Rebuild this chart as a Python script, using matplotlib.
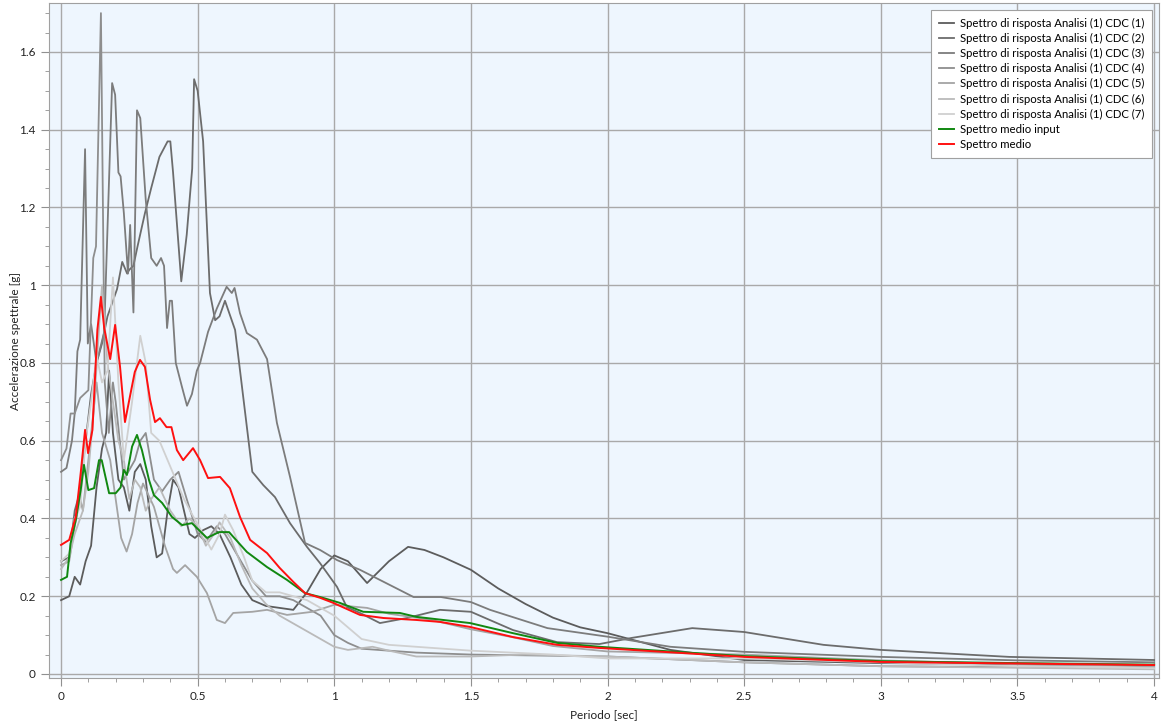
import numpy as np
import matplotlib
matplotlib.use("Agg")
import matplotlib.pyplot as plt
from matplotlib.ticker import MultipleLocator, FormatStrFormatter

# spettri di risposta (periodo [s], accelerazione [g])
t1 = [0, 0.03, 0.05, 0.07, 0.09, 0.11, 0.13, 0.15, 0.165, 0.176, 0.19, 0.21, 0.23, 0.25, 0.27, 0.29, 0.31, 0.33,
      0.35, 0.37, 0.39, 0.41, 0.43, 0.45, 0.47, 0.49, 0.52, 0.55, 0.58, 0.62, 0.66, 0.7, 0.75, 0.8, 0.85, 0.9,
      0.95, 1.0, 1.05, 1.12, 1.2, 1.27, 1.33, 1.4, 1.5, 1.6, 1.7, 1.8, 1.9, 2.0, 2.23, 2.5, 3.0, 3.5, 4.0]
y1 = [0.19, 0.2, 0.25, 0.23, 0.29, 0.33, 0.48, 0.58, 0.62, 0.78, 0.62, 0.5, 0.48, 0.42, 0.52, 0.54, 0.5, 0.38,
      0.3, 0.31, 0.42, 0.5, 0.48, 0.42, 0.36, 0.35, 0.37, 0.38, 0.36, 0.3, 0.23, 0.19, 0.175, 0.17, 0.165, 0.21,
      0.27, 0.305, 0.29, 0.234, 0.29, 0.327, 0.319, 0.3, 0.268, 0.22, 0.18, 0.145, 0.12, 0.105, 0.062, 0.036,
      0.028, 0.025, 0.022]

t2 = [0, 0.03, 0.05, 0.07, 0.09, 0.11, 0.13, 0.15, 0.17, 0.19, 0.205, 0.224, 0.242, 0.25, 0.265, 0.28, 0.307,
      0.33, 0.36, 0.39, 0.40, 0.41, 0.44, 0.46, 0.48, 0.487, 0.5, 0.52, 0.545, 0.564, 0.58, 0.6, 0.637, 0.7,
      0.74, 0.783, 0.838, 0.9, 0.948, 1.01, 1.046, 1.094, 1.167, 1.266, 1.387, 1.5, 1.654, 1.815, 1.97, 2.09,
      2.31, 2.5, 2.79, 3.0, 3.47, 4.0]
y2 = [0.29, 0.3, 0.42, 0.47, 0.6, 0.72, 0.8, 0.85, 0.92, 0.96, 0.99, 1.06, 1.03, 1.04, 1.05, 1.1, 1.185, 1.25,
      1.33, 1.37, 1.37, 1.29, 1.01, 1.13, 1.3, 1.53, 1.5, 1.37, 0.98, 0.91, 0.92, 0.96, 0.885, 0.52, 0.486,
      0.455, 0.388, 0.327, 0.285, 0.224, 0.172, 0.157, 0.131, 0.144, 0.165, 0.16, 0.113, 0.082, 0.077, 0.093,
      0.118, 0.108, 0.075, 0.062, 0.044, 0.036]

t3 = [0, 0.02, 0.04, 0.05, 0.06, 0.07, 0.088, 0.098, 0.11, 0.13, 0.158, 0.187, 0.198, 0.21, 0.218, 0.23, 0.245,
      0.253, 0.265, 0.278, 0.29, 0.31, 0.33, 0.35, 0.366, 0.377, 0.388, 0.398, 0.406, 0.42, 0.442, 0.461,
      0.479, 0.497, 0.509, 0.538, 0.57, 0.606, 0.625, 0.635, 0.655, 0.68, 0.717, 0.754, 0.79, 0.838, 0.893,
      0.948, 1.01, 1.094, 1.29, 1.39, 1.5, 1.57, 1.78, 2.0, 2.23, 2.5, 3.0, 3.5, 4.0]
y3 = [0.52, 0.53, 0.6, 0.67, 0.83, 0.86, 1.35, 0.85, 0.9, 0.8, 0.88, 1.52, 1.49, 1.29, 1.28, 1.185, 1.03,
      1.155, 0.93, 1.45, 1.43, 1.22, 1.07, 1.05, 1.07, 1.05, 0.89, 0.96, 0.96, 0.8, 0.74, 0.69, 0.72, 0.78,
      0.8, 0.88, 0.94, 0.996, 0.98, 0.993, 0.928, 0.877, 0.86, 0.81, 0.646, 0.507, 0.337, 0.319, 0.293,
      0.268, 0.198, 0.198, 0.185, 0.165, 0.118, 0.096, 0.07, 0.057, 0.044, 0.035, 0.03]

t4 = [0, 0.02, 0.035, 0.05, 0.07, 0.1, 0.118, 0.128, 0.146, 0.16, 0.175, 0.19, 0.2, 0.23, 0.27, 0.29, 0.31,
      0.34, 0.37, 0.4, 0.43, 0.46, 0.5, 0.53, 0.57, 0.6, 0.65, 0.7, 0.75, 0.8, 0.85, 0.9, 0.95, 1.0, 1.05,
      1.1, 1.2, 1.3, 1.5, 2.0, 2.5, 3.0, 4.0]
y4 = [0.55, 0.58, 0.67, 0.67, 0.71, 0.73, 1.07, 1.1, 1.7, 0.75, 0.62, 0.75, 0.7, 0.5, 0.55, 0.6, 0.62, 0.5,
      0.47, 0.5, 0.52, 0.45, 0.36, 0.34, 0.38, 0.36, 0.3, 0.24, 0.2, 0.2, 0.19, 0.17, 0.15, 0.1, 0.08, 0.065,
      0.06, 0.055, 0.05, 0.045, 0.03, 0.02, 0.015]

t5 = [0, 0.03, 0.05, 0.07, 0.08, 0.1, 0.13, 0.15, 0.18, 0.2, 0.22, 0.24, 0.26, 0.28, 0.3, 0.32, 0.34, 0.36,
      0.38, 0.41, 0.424, 0.454, 0.497, 0.534, 0.57, 0.6, 0.63, 0.7, 0.754, 0.827, 0.92, 1.0, 1.12, 1.2, 1.35,
      1.5, 1.65, 1.8, 2.0, 2.5, 3.0, 3.5, 4.0]
y5 = [0.28, 0.29, 0.38, 0.45, 0.42, 0.55, 0.75, 0.62, 0.55, 0.45, 0.35, 0.315, 0.36, 0.44, 0.49, 0.46, 0.43,
      0.38, 0.33, 0.27, 0.26, 0.28, 0.25, 0.208, 0.139, 0.131, 0.157, 0.16, 0.165, 0.152, 0.16, 0.178, 0.17,
      0.155, 0.14, 0.115, 0.095, 0.072, 0.058, 0.05, 0.035, 0.025, 0.02]

t6 = [0, 0.03, 0.05, 0.08, 0.1, 0.12, 0.14, 0.15, 0.17, 0.19, 0.21, 0.23, 0.25, 0.27, 0.29, 0.31, 0.33, 0.36,
      0.4, 0.44, 0.47, 0.5, 0.53, 0.56, 0.58, 0.62, 0.66, 0.7, 0.75, 0.8, 0.85, 0.9, 0.95, 1.0, 1.05, 1.14,
      1.2, 1.3, 1.5, 1.7, 2.0, 2.5, 3.0, 4.0]
y6 = [0.27, 0.3, 0.36, 0.42, 0.52, 0.68, 0.9, 1.0, 0.8, 0.7, 0.6, 0.55, 0.45, 0.5, 0.48, 0.42, 0.45, 0.48,
      0.42, 0.38, 0.4, 0.38, 0.33, 0.36, 0.39, 0.35, 0.28, 0.22, 0.18, 0.15, 0.13, 0.11, 0.09, 0.07, 0.062,
      0.07, 0.06, 0.045, 0.045, 0.05, 0.045, 0.03, 0.02, 0.012]

t7 = [0, 0.03, 0.05, 0.07, 0.09, 0.11, 0.13, 0.15, 0.17, 0.19, 0.21, 0.23, 0.26, 0.29, 0.31, 0.33, 0.36, 0.39,
      0.42, 0.45, 0.48, 0.52, 0.55, 0.58, 0.6, 0.63, 0.67, 0.7, 0.75, 0.8, 0.85, 0.9, 0.95, 1.0, 1.05, 1.1,
      1.2, 1.3, 1.5, 1.8, 2.0, 2.5, 3.0, 3.5, 4.0]
y7 = [0.29, 0.31, 0.4, 0.43, 0.6, 0.7, 0.82, 0.75, 0.78, 1.02, 0.75, 0.55, 0.7, 0.87, 0.8, 0.62, 0.6, 0.55,
      0.5, 0.45, 0.41, 0.36, 0.32, 0.36, 0.41, 0.37, 0.3, 0.24, 0.21, 0.21, 0.2, 0.19, 0.17, 0.15, 0.12, 0.09,
      0.075, 0.07, 0.06, 0.05, 0.04, 0.04, 0.03, 0.02, 0.015]

t_input = [0, 0.022, 0.035, 0.054, 0.072, 0.084, 0.1, 0.121, 0.139, 0.149, 0.176, 0.2, 0.218, 0.23, 0.241,
           0.26, 0.278, 0.296, 0.322, 0.34, 0.37, 0.406, 0.443, 0.479, 0.505, 0.534, 0.578, 0.615, 0.63, 0.68,
           0.754, 0.827, 0.893, 0.948, 1.02, 1.106, 1.24, 1.3, 1.497, 1.654, 1.815, 1.97, 2.25, 2.5, 3.0, 3.5, 4.0]
y_input = [0.242, 0.25, 0.336, 0.396, 0.473, 0.538, 0.473, 0.478, 0.55, 0.55, 0.465, 0.465, 0.48, 0.525, 0.512,
           0.585, 0.615, 0.576, 0.499, 0.46, 0.44, 0.404, 0.383, 0.388, 0.37, 0.35, 0.365, 0.365, 0.353, 0.314,
           0.275, 0.242, 0.208, 0.198, 0.183, 0.16, 0.157, 0.147, 0.131, 0.105, 0.08, 0.07, 0.057, 0.046, 0.033,
           0.028, 0.024]

t_medio = [0, 0.03, 0.054, 0.072, 0.088, 0.099, 0.115, 0.133, 0.146, 0.158, 0.18, 0.198, 0.216, 0.234, 0.252,
           0.27, 0.289, 0.307, 0.326, 0.344, 0.362, 0.386, 0.404, 0.424, 0.447, 0.483, 0.509, 0.538, 0.582,
           0.618, 0.655, 0.692, 0.754, 0.8, 0.85, 0.893, 0.948, 0.996, 1.094, 1.18, 1.3, 1.387, 1.497, 1.654,
           1.815, 1.97, 2.25, 2.5, 3.0, 3.5, 4.0]
y_medio = [0.332, 0.345, 0.405, 0.517, 0.628, 0.568, 0.628, 0.885, 0.97, 0.89, 0.81, 0.898, 0.79, 0.648, 0.713,
           0.777, 0.808, 0.79, 0.705, 0.648, 0.658, 0.635, 0.635, 0.576, 0.55, 0.581, 0.55, 0.504, 0.507, 0.478,
           0.404, 0.345, 0.311, 0.273, 0.237, 0.208, 0.196, 0.183, 0.152, 0.144, 0.139, 0.134, 0.121, 0.095,
           0.075, 0.067, 0.055, 0.044, 0.031, 0.027, 0.023]

spettri = [(t1, y1), (t2, y2), (t3, y3), (t4, y4), (t5, y5), (t6, y6), (t7, y7)]
grigi = ["#5c5c5c", "#6c6c6c", "#7c7c7c", "#8e8e8e", "#a4a4a4", "#bababa", "#d0d0d0"]

plt.rcParams['font.family'] = ['Lato', 'DejaVu Sans']

fig = plt.figure(figsize=(11.62, 7.26), dpi=100)
ax = fig.add_axes([49 / 1162, 1 - 678 / 726, (1159 - 49) / 1162, (678 - 3) / 726])
ax.set_facecolor("#eef6fe")

for i, (t, y) in enumerate(spettri):
    ax.plot(t, y, color=grigi[i], lw=1.3,
            label="Spettro di risposta Analisi (1) CDC (%d)" % (i + 1))
ax.plot(t_input, y_input, color="#118811", lw=1.4, label="Spettro medio input")
ax.plot(t_medio, y_medio, color="#ff1010", lw=1.4, label="Spettro medio")

ax.set_xlim(-0.044, 4.018)
ax.set_ylim(-0.0103, 1.726)
ax.xaxis.set_major_locator(MultipleLocator(0.5))
ax.xaxis.set_minor_locator(MultipleLocator(0.1))
ax.yaxis.set_major_locator(MultipleLocator(0.2))
ax.yaxis.set_minor_locator(MultipleLocator(0.05))
ax.xaxis.set_major_formatter(FormatStrFormatter('%g'))
ax.yaxis.set_major_formatter(FormatStrFormatter('%g'))
ax.grid(True, which="major", color="#a9a9a9", lw=1.0)
ax.set_axisbelow(True)
ax.tick_params(which="both", direction="out", color="#909090", labelsize=8.5, labelcolor="#222222")
ax.tick_params(which="major", length=6)
ax.tick_params(which="minor", length=3)
for s in ax.spines.values():
    s.set_color("#a0a0a0")

ax.set_xlabel("Periodo [sec]", fontsize=8.5, color="#222222", labelpad=5)
ax.set_ylabel("Accelerazione spettrale [g]", fontsize=8.5, color="#222222", labelpad=-1)

leg = ax.legend(loc="upper right", fontsize=8.2, frameon=True, fancybox=False, framealpha=1,
                edgecolor="#a0a0a0", handlelength=1.3, handletextpad=0.5, labelspacing=0.36,
                borderaxespad=0.6, borderpad=0.7)
leg.get_frame().set_linewidth(0.8)

fig.savefig("out.png", dpi=100)
